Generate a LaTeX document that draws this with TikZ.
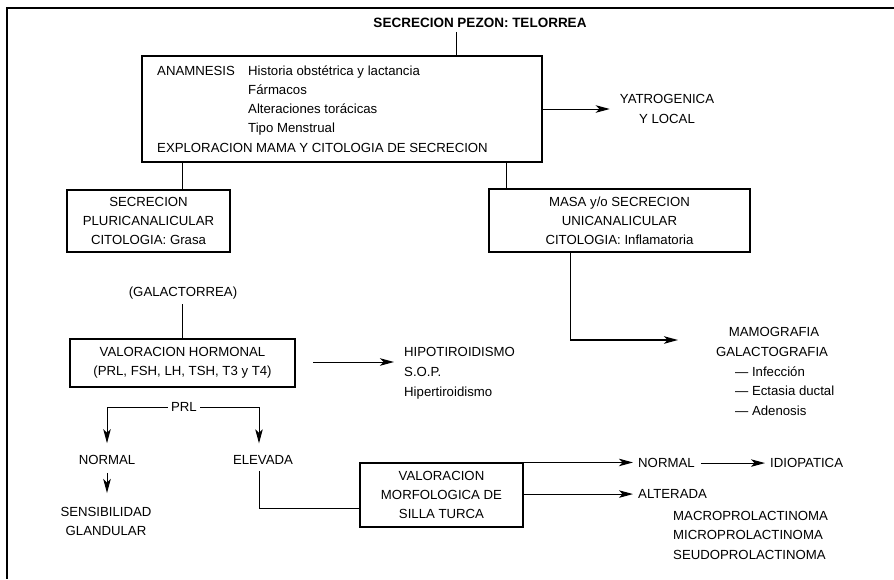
\documentclass[tikz,border=0pt]{standalone}
\usepackage{fontspec}
\setmainfont{Liberation Sans}
\usetikzlibrary{arrows.meta,calc}
\begin{document}
\begin{tikzpicture}[x=1pt,y=-1pt,
  every node/.style={inner sep=0pt, font=\fontsize{13.2}{19.2}\selectfont},
  box/.style={draw, line width=1.1pt, align=center},
  lbl/.style={anchor=base west},
  clbl/.style={anchor=base},
  ln/.style={line width=1pt},
  arr/.style={line width=1pt, -{Stealth[length=14pt,width=7.5pt,inset=3.5pt]}}]
\useasboundingbox (0,0) rectangle (894,579);
\draw[line width=1.5pt] (894,8) -- (7,8) -- (7,579);

% title and top box
\node[clbl, font=\fontsize{13.5}{16}\selectfont\bfseries] (title) at (480,27.6) {SECRECION PEZON: TELORREA};
\node[box, minimum width=400pt, minimum height=106pt] (topbox) at (342,109) {};
\node[lbl] (anam) at (157,75.8) {ANAMNESIS};
\node[lbl] (hist) at (248,75.8) {Historia obstétrica y lactancia};
\node[lbl] (farm) at (248,94.8) {Fármacos};
\node[lbl] (alter) at (248,113.8) {Alteraciones torácicas};
\node[lbl] (tipo) at (248,132.8) {Tipo Menstrual};
\node[lbl] (explo) at (157,152.6) {EXPLORACION MAMA Y CITOLOGIA DE SECRECION};
\draw[ln] ([xshift=-24pt,yshift=-4pt]title.south) -- ([xshift=-24pt]title.south |- topbox.north);

\node[align=center] (yatro) at (667,109) {YATROGENICA\\Y LOCAL};
\draw[arr, shorten >=10pt] (topbox.east) -- (topbox.east -| yatro.west);

% second level
\node[box, minimum width=163pt, minimum height=62pt] (pluri) at (148.5,221) {SECRECION\\PLURICANALICULAR\\CITOLOGIA: Grasa};
\draw[line width=1.4pt] ([xshift=34pt]pluri.north) -- ([xshift=34pt]pluri.north |- topbox.south);
\node[box, minimum width=261pt, minimum height=63pt] (masa) at (619.5,220.5) {MASA y/o SECRECION\\UNICANALICULAR\\CITOLOGIA: Inflamatoria};
\draw[line width=1.4pt] ([xshift=18pt]masa.north west) -- ([xshift=18pt]masa.north west |- topbox.south);

% mamografia
\coordinate (mamotip) at (678,340);
\draw[arr, line width=1.4pt] ([xshift=82pt]masa.south west) |- (mamotip);
\node[clbl] (mamo) at (774,336.6) {MAMOGRAFIA};
\node[clbl] (galacto) at (772,356.6) {GALACTOGRAFIA};
\node[lbl] (inf) at (735,376.6) {— Infección};
\node[lbl] (ect) at (735,395.6) {— Ectasia ductal};
\node[lbl] (aden) at (735,415.6) {— Adenosis};

% galactorrea and hormonal
\node[clbl] (galac) at (183,296.6) {(GALACTORREA)};
\node[box, minimum width=225pt, minimum height=48pt] (hormonal) at (182.5,363) {VALORACION HORMONAL\\(PRL, FSH, LH, TSH, T3 y T4)};
\draw[ln] (hormonal.north) -- ([yshift=-4pt]hormonal.north |- galac.south);

\node[lbl] (hipo) at (404,356.6) {HIPOTIROIDISMO};
\node[lbl] (sop) at (404,376.6) {S.O.P.};
\node[lbl] (hiper) at (404,396.6) {Hipertiroidismo};
\coordinate (hstart) at (313,362);
\draw[arr, shorten >=10pt] (hstart) -- (hstart -| hipo.west);

% PRL branches
\node[clbl] (prl) at (184,411.6) {PRL};
\node[clbl] (normal) at (107,464.6) {NORMAL};
\node[clbl] (elev) at (263,464.6) {ELEVADA};
\draw[arr] ([xshift=-3pt]prl.west) -| ([yshift=12pt]normal.north);
\draw[arr] ([xshift=3pt]prl.east) -| ([xshift=-4pt,yshift=12pt]elev.north);
\node[align=center] (sens) at (106,521.5) {SENSIBILIDAD\\GLANDULAR};
\draw[arr] ([yshift=-8pt]normal.south) -- ([yshift=14pt]normal.south |- sens.north);

% morfologica
\node[box, minimum width=163pt, minimum height=64pt] (morfo) at (441.5,495) {VALORACION\\MORFOLOGICA DE\\SILLA TURCA};
\coordinate (ej) at (0,508);
\draw[ln] ([xshift=-4pt,yshift=-6pt]elev.south) |- (morfo.west |- ej);

\node[lbl] (nr) at (638,467.6) {NORMAL};
\node[lbl] (idio) at (770,467.6) {IDIOPATICA};
\node[lbl] (alt) at (638,498.6) {ALTERADA};
\draw[arr, shorten >=5pt] (morfo.north east) -- (morfo.north east -| nr.west);
\draw[arr, shorten >=5pt] (morfo.east |- alt.west) -- (alt.west);
\draw[arr, shorten <=6pt, shorten >=5pt] (nr.east) -- (idio.west);
\node[lbl] (macro) at (673,520.6) {MACROPROLACTINOMA};
\node[lbl] (micro) at (673,539.6) {MICROPROLACTINOMA};
\node[lbl] (seudo) at (673,559.6) {SEUDOPROLACTINOMA};
\end{tikzpicture}
\end{document}
